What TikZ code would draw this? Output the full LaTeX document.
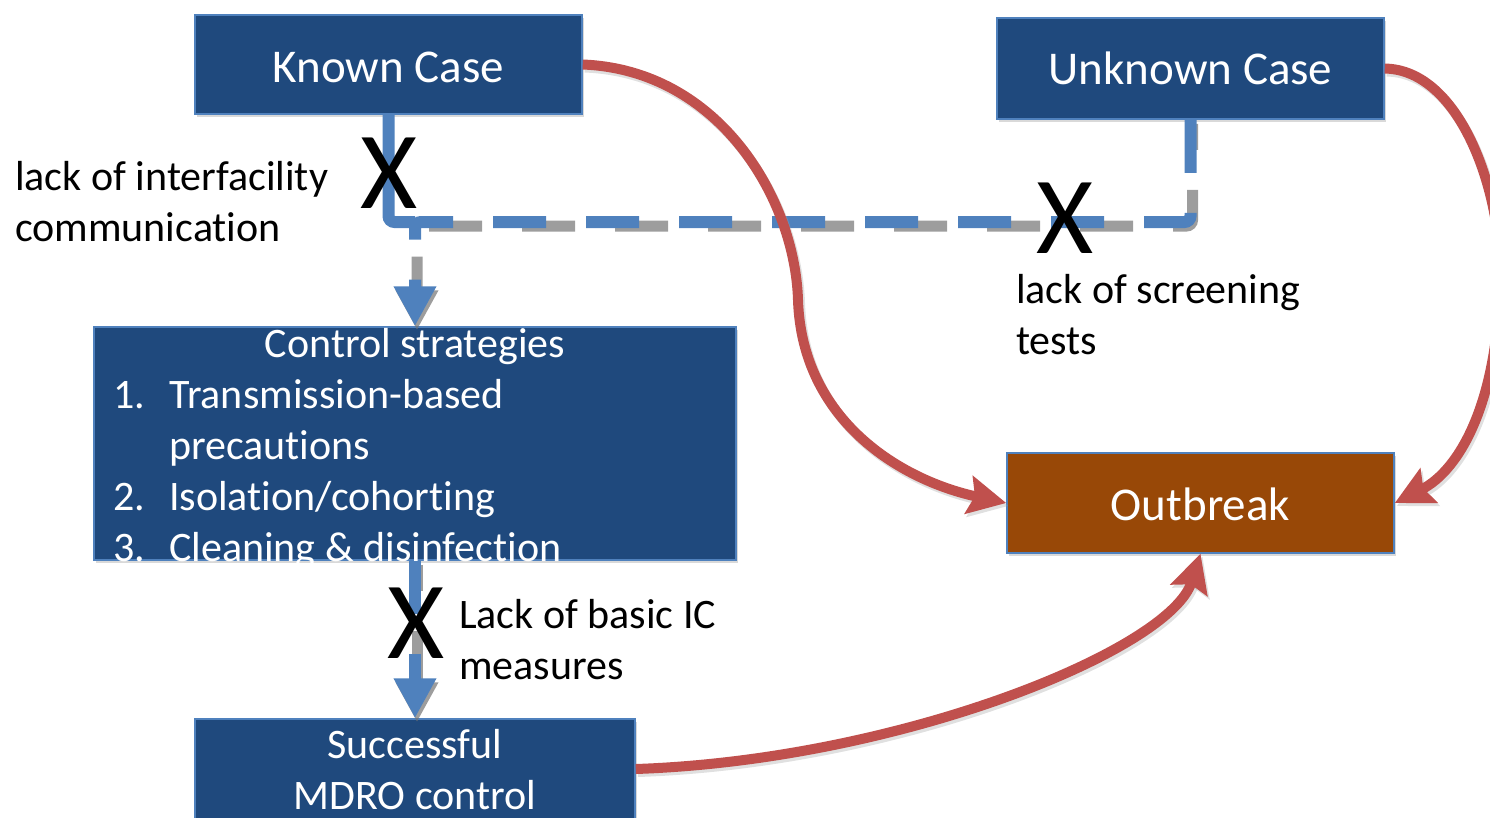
\documentclass[tikz,border=0pt]{standalone}
\usepackage{fontspec}
\setmainfont{Carlito}[Ligatures=NoCommon]
\usetikzlibrary{arrows.meta,shadows}
\definecolor{boxblue}{HTML}{1F497D}
\definecolor{edgeblue}{HTML}{4F81BD}
\definecolor{outbrown}{HTML}{984807}
\definecolor{arrred}{HTML}{C0504D}
\begin{document}
\begin{tikzpicture}[x=1pt,y=-1pt,
  box/.style={draw=edgeblue, line width=1.5pt, fill=boxblue, inner sep=0pt,
    drop shadow={shadow xshift=2pt, shadow yshift=-3pt, opacity=0.3}},
  bigtxt/.style={font=\fontsize{47}{56}\selectfont, text=white, inner sep=0pt, anchor=base},
  medtxt/.style={font=\fontsize{42}{51}\selectfont, inner sep=0pt},
  lbl/.style={medtxt, text=black, anchor=base west},
  xmark/.style={font=\fontsize{110}{110}\selectfont, text=black, inner sep=0pt, anchor=base},
  bline/.style={draw=edgeblue, line width=12pt},
  bdash/.style={bline, dash pattern=on 53pt off 40pt},
  bshadow/.style={draw=black!55, line width=11pt, opacity=0.7, dash pattern=on 53pt off 40pt, dash phase=27pt,
    transform canvas={xshift=2pt, yshift=-4pt}},
  btip/.style={-{Triangle[length=40pt,width=40pt]}},
  rline/.style={draw=arrred, line width=10pt, -{Stealth[length=38pt,width=38pt,inset=6pt]}},
  rshadow/.style={draw=black!35, opacity=0.35, line width=10pt, -{Stealth[length=38pt,width=38pt,inset=6pt]},
    transform canvas={xshift=2pt, yshift=-3pt}}
]
\useasboundingbox (0,0) rectangle (1490,817);

% boxes
\node[box, minimum width=387pt, minimum height=99pt] (known) at (388.5,64.5) {};
\node[box, minimum width=387pt, minimum height=101pt] (unknown) at (1190.5,68.5) {};
\node[box, minimum width=642pt, minimum height=233pt] (ctrl) at (415,443.5) {};
\node[box, fill=outbrown, minimum width=387pt, minimum height=100pt] (outbreak) at (1200.5,503) {};
\node[box, minimum width=440pt, minimum height=100pt] (success) at (415,769) {};

\coordinate (j) at (415,222);

% blue connectors: shadows
\draw[bshadow, rounded corners=6pt, btip] (unknown.south) |- (j) -- (ctrl.north);
\draw[bshadow, btip] (ctrl.south) -- (success.north);
% blue connectors
\draw[bline, rounded corners=6pt] (known.south) |- (j);
\draw[bdash, rounded corners=6pt, btip] (unknown.south) |- (j) -- (ctrl.north);
\draw[bdash, btip] (ctrl.south) -- (success.north);

% red connectors: shadows
\draw[rshadow] (known.east) .. controls (720,70) and (795,200) .. (798,300)
  .. controls (802,420) and (900,480) .. (outbreak.west);
\draw[rshadow] (unknown.east) .. controls (1460,70) and (1500,190) .. (1500,270)
  .. controls (1500,400) and (1460,470) .. (outbreak.east);
\draw[rshadow] (success.east) .. controls (900,760) and (1170,650) .. (outbreak.south);
% red connectors
\draw[rline] (known.east) .. controls (720,70) and (795,200) .. (798,300)
  .. controls (802,420) and (900,480) .. (outbreak.west);
\draw[rline] (unknown.east) .. controls (1460,70) and (1500,190) .. (1500,270)
  .. controls (1500,400) and (1460,470) .. (outbreak.east);
\draw[rline] (success.east) .. controls (900,760) and (1170,650) .. (outbreak.south);

% box texts
\node[bigtxt] (tknown) at (388.5,82) {Known Case};
\node[bigtxt] (tunknown) at (1190.5,84) {Unknown Case};
\node[bigtxt] (toutbreak) at (1200.5,520) {Outbreak};
\node[medtxt, text=white, anchor=base] (tctrl) at (415,357) {Control strategies};
\node[medtxt, text=white, anchor=base west] (tlist) at (113,408)
  {\begin{tabular}[t]{@{}l@{}}
   \makebox[56pt][l]{1.}Transmission-based\\
   \makebox[56pt][l]{}precautions\\
   \makebox[56pt][l]{2.}Isolation/cohorting\\
   \makebox[56pt][l]{3.}Cleaning \& disinfection
   \end{tabular}};
\node[medtxt, text=white, anchor=base] (tsuccess) at (415,758)
  {\begin{tabular}[t]{@{}c@{}}Successful\\MDRO control\end{tabular}};

% labels
\node[lbl] (linter) at (15,190)
  {\begin{tabular}[t]{@{}l@{}}lack of interfacility\\communication\end{tabular}};
\node[lbl] (lscreen) at (1016,303)
  {\begin{tabular}[t]{@{}l@{}}lack of screening\\tests\end{tabular}};
\node[lbl] (lbasic) at (459,628)
  {\begin{tabular}[t]{@{}l@{}}Lack of basic IC\\measures\end{tabular}};

% X marks
\node[xmark] (x1) at (389.5,208) {X};
\node[xmark] (x2) at (1065,253) {X};
\node[xmark] (x3) at (416.5,658) {X};
\end{tikzpicture}
\end{document}
